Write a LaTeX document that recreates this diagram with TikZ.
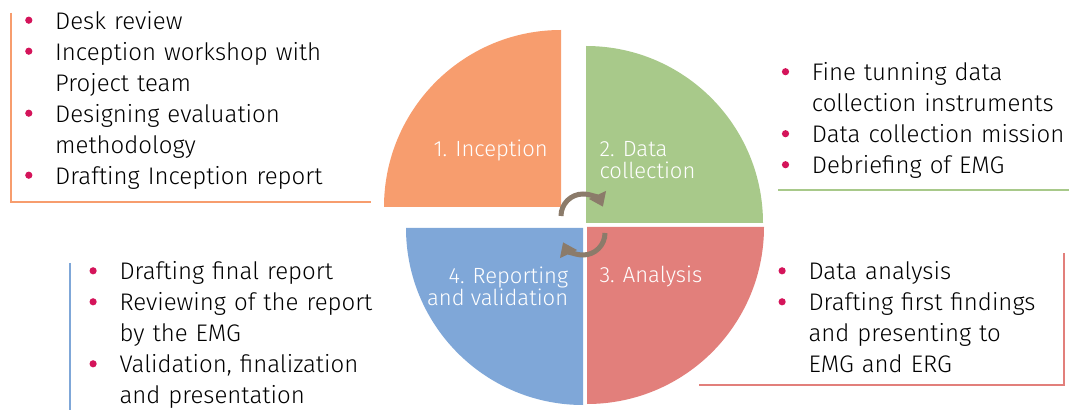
\documentclass[tikz,border=0pt]{standalone}
\usepackage{fontspec}
\setmainfont{Fira Sans}[UprightFont=* Light]
\usepackage{enumitem}
\usetikzlibrary{arrows.meta}
\definecolor{phaseOrange}{RGB}{247,157,110}
\definecolor{phaseGreen}{RGB}{168,201,138}
\definecolor{phaseBlue}{RGB}{127,167,216}
\definecolor{phaseRed}{RGB}{226,127,123}
\definecolor{cycleBrown}{RGB}{139,123,106}
\definecolor{dotRed}{RGB}{212,20,90}

\newcommand\reddot{\tikz[baseline=-9pt]\fill[dotRed] (0,0) circle (3.6pt);}
\newlist{steps}{itemize}{1}
\setlist[steps]{label=\strut\reddot,align=left,leftmargin=30pt,labelwidth=30pt,labelsep=0pt,nosep}

\tikzset{
  phase/.style={text=white,inner sep=0pt,font=\fontsize{22}{22}\selectfont},
  tasks/.style={anchor=north west,inner sep=0pt,text width=#1,align=left,font=\fontsize{24}{31}\selectfont},
  frame/.style={line width=2pt},
  cycArrow/.style={cycleBrown,line width=5pt,-{Triangle[length=13pt,width=18pt]}}
}

\begin{document}
\begin{tikzpicture}[x=1pt,y=1pt]
  \useasboundingbox (0,0) rectangle (1069,410);

  \def\rQuad{177}

  % draw the four quarters
  \foreach \cx/\cy/\a/\col in {561/203/90/phaseOrange, 586/187/0/phaseGreen,
                                583/182/180/phaseBlue, 587/183/270/phaseRed}
  \fill[\col] (\cx,\cy) -- ++(\a:\rQuad) arc (\a:\a+90:\rQuad) -- cycle;

  % phase names
  \node[phase,anchor=base east] (inception) at (548,253.3) {1. Inception};
  \node[phase,anchor=north west,align=left] (collection) at (599.3,268.8) {2. Data\\collection};
  \node[phase,anchor=base west] (analysis) at (599.3,127.7) {3. Analysis};
  \node[phase,anchor=north east,align=right] (reporting) at (568.3,143.5) {4. Reporting\\and validation};

  % draw the cycle arrows
  \coordinate (cycTop) at (583,194);
  \coordinate (cycBot) at (583,177);
  \draw[cycArrow] (cycTop) ++(180:22) arc (180:25:22);
  \draw[cycArrow] (cycBot) ++(0:22) arc (0:-155:22);

  % task lists
  \node[tasks=360pt] (inceptionTasks) at (25,412) {
    \begin{steps}
      \item Desk review
      \item Inception workshop with\\Project team
      \item Designing evaluation\\methodology
      \item Drafting Inception report
    \end{steps}};
  \node[tasks=300pt] (collectionTasks) at (781.7,360.5) {
    \begin{steps}
      \item Fine tunning data\\collection instruments
      \item Data collection mission
      \item Debriefing of EMG
    \end{steps}};
  \node[tasks=300pt] (reportingTasks) at (89.3,161.4) {
    \begin{steps}
      \item Drafting final report
      \item Reviewing of the report\\by the EMG
      \item Validation, finalization\\and presentation
    \end{steps}};
  \node[tasks=290pt] (analysisTasks) at (778.3,161.4) {
    \begin{steps}
      \item Data analysis
      \item Drafting first findings\\and presenting to\\EMG and ERG
    \end{steps}};

  % frame lines of the lists
  \draw[frame,phaseOrange] (11,397.3) -- (11,208.3) -- (370.7,208.3);
  \draw[frame,phaseGreen] (778,220) -- (1069,220);
  \draw[frame,phaseBlue] (70,147) -- (70,0);
  \draw[frame,phaseRed] (699,25) -- (1064,25) -- (1064,157);
\end{tikzpicture}
\end{document}
